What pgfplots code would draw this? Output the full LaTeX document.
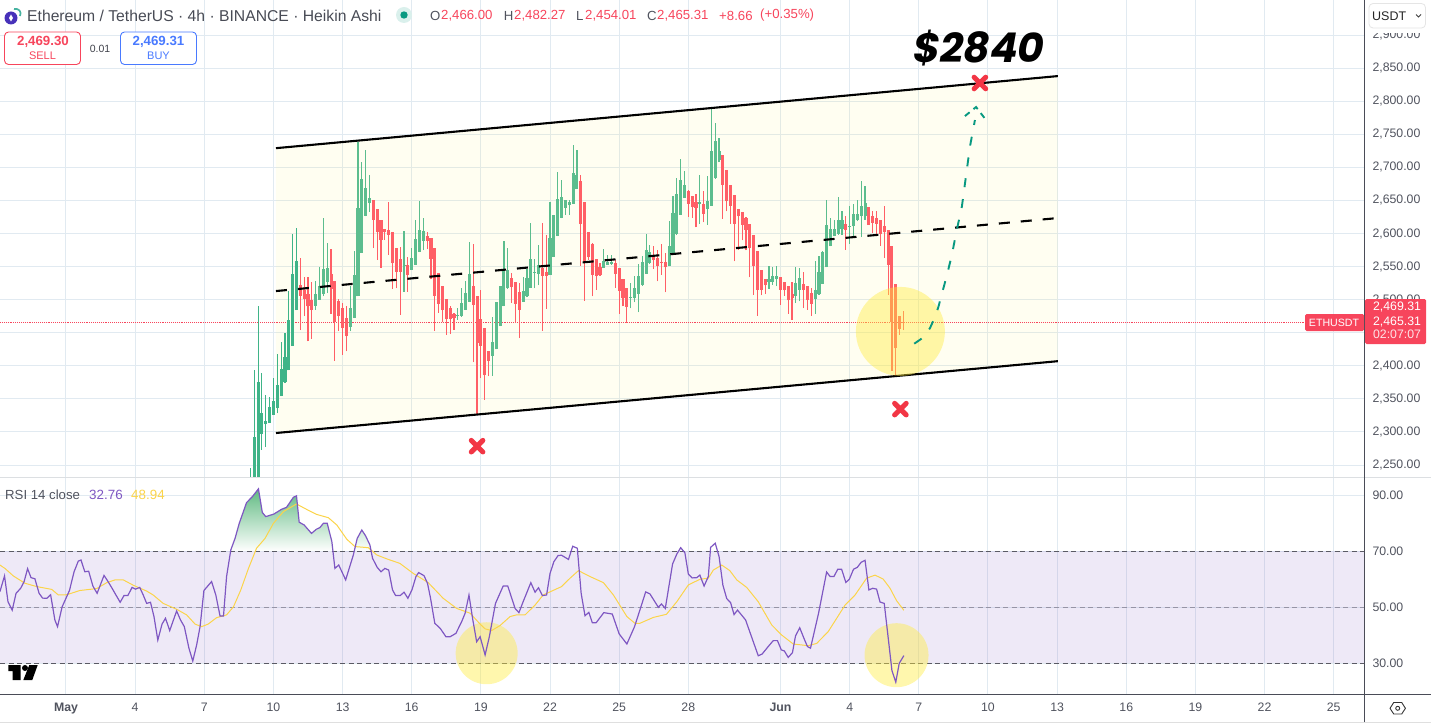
\documentclass[border=0pt]{standalone}
\usepackage{fontspec}
\setmainfont{Liberation Sans}
\newfontfamily\pop{Poppins}
\usepackage{pgfplots}
\usepackage{pgfplotstable}
\pgfplotsset{compat=1.18}
\definecolor{cgreenA}{HTML}{3FB488}
\definecolor{cgreen}{HTML}{5CBD8E}
\definecolor{cred}{HTML}{FF5F66}
\definecolor{gridc}{HTML}{E1EAF1}
\definecolor{axc}{HTML}{4A4C57}
\definecolor{txt}{HTML}{50535E}
\definecolor{rsi}{HTML}{7E57C2}
\definecolor{ma}{HTML}{FBD44A}
\definecolor{tag}{HTML}{F7455C}
\definecolor{xred}{HTML}{F23645}
\definecolor{teal}{HTML}{089981}
\definecolor{hl}{HTML}{FFEB3B}
\definecolor{blueb}{HTML}{2962FF}

\pgfplotstableread{
n o h l c
48 2200 2245 2190 2222
49 2200 2394 2190 2292
50 2215 2491 2205 2376
51 2297 2389 2273 2328.5
52 2312 2356 2277 2317
53 2314 2353 2314 2337.5
54 2326 2381 2326 2347
55 2336 2418 2328 2371
56 2354 2436 2354 2395
57 2375 2449 2374 2413
58 2393 2513 2393 2469.5
59 2430 2600 2430 2539
60 2484 2608 2484 2558
}\greenA
\pgfplotstableread{
n o h l c
65 2491 2528 2485 2508
66 2500 2550 2500 2520
67 2509 2623 2505 2546
68 2527 2585 2510 2548
74 2458 2520 2452 2487
75 2472.5 2574 2472 2537
76 2505 2738 2505 2639
77 2571 2708 2571 2682
78 2627 2726 2626 2669
79 2646 2688.5 2633 2653
88 2551 2604 2512 2552.5
90 2545 2578 2545 2563
91 2552.5 2620.5 2552.5 2592
92 2572 2649 2572 2606
93 2589 2623 2575 2604
102 2475 2487 2469.5 2477
103 2475 2517 2474.5 2495
104 2484.5 2528 2484.5 2510
105 2497 2587 2497 2539
111 2415 2474.5 2385 2436
112 2425 2497 2425 2496.7
113 2460 2520 2460 2520
114 2490 2589 2490 2546
115 2517 2578 2516 2545
119 2497 2535 2497 2513
120 2505 2547 2504 2533
121 2518 2615.5 2518 2562
122 2540.5 2562 2517 2541.5
123 2538.5 2583 2522 2552.5
126 2537 2648 2537 2593
127 2565 2628 2565 2628
128 2596 2692.5 2596 2652
129 2624 2681 2623 2655
130 2639 2651 2628 2651
131 2643 2651 2628 2648
132 2645 2734 2645 2691
133 2667 2726 2667 2688.5
140 2548 2576.5 2548 2559
141 2553 2567 2553 2557.4
142 2554.4 2568 2553 2556.4
147 2503 2525 2487 2504.4
148 2502.4 2536 2496 2518
149 2509 2554.4 2480.7 2536
150 2522.6 2566.5 2521 2557.4
151 2539 2599.7 2539 2575.5
152 2555.4 2583 2554.4 2571.5
157 2550.3 2619.4 2550.3 2581.6
158 2570.5 2656 2568 2631
159 2598.7 2684 2598 2660
160 2628.5 2712.7 2628.5 2681.5
161 2653.7 2695 2653.7 2674
165 2644 2689 2615 2647
167 2637 2687.5 2613.4 2649.7
168 2642 2788.9 2642 2725
169 2683.5 2767 2682.5 2740.5
170 2711.7 2744.5 2707.7 2725
183 2526 2550.3 2516.5 2531.6
184 2527 2549.3 2522.6 2536
185 2531 2551.3 2520 2536
190 2506 2548.8 2494.8 2525
191 2515 2547.8 2497.4 2532.6
195 2500.9 2557.9 2478.7 2515
196 2508.5 2565.4 2507.4 2542
197 2524 2573 2524 2572
198 2548.8 2651.2 2548.8 2613.4
199 2580.6 2623.5 2580.6 2606.8
200 2595.7 2620.9 2595.7 2606.8
201 2599.7 2655.2 2598 2620.9
202 2606.8 2633.5 2598 2620.9
204 2609.3 2642 2584.6 2611.9
205 2610.8 2645 2595.7 2629.5
206 2620 2650 2618.4 2630
207 2626 2680 2594.7 2641
208 2626 2671.4 2621 2646
}\greenB
\pgfplotstableread{
n o h l c
61 2522 2563 2454 2506
62 2515 2535 2475 2501
63 2508 2534 2437 2490
64 2500 2527 2441 2484
69 2539 2577 2479 2516
70 2528 2528 2408 2465.5
71 2498 2501 2453 2476
72 2487 2495 2417 2457
73 2472 2490 2422 2445
80 2651 2651 2578 2620.5
81 2637 2637 2560 2603
82 2620.5 2620.5 2548.5 2590
83 2607 2607 2590 2602
84 2605 2647 2568 2598
85 2602 2602 2516 2555
86 2578 2578 2517 2542
87 2561 2580 2477.5 2542
89 2552 2564 2512 2537
94 2596 2603 2576 2589
95 2593 2593 2531 2562
96 2578 2578 2453 2506
97 2541 2541 2480 2494
98 2520 2520 2465.5 2484
99 2501 2501 2447 2470.5
100 2488 2490 2448 2470.5
101 2478 2479.5 2454 2472
106 2520 2584 2405 2492
107 2506 2506 2327.5 2435
108 2470.5 2515 2381 2430
109 2457 2457 2349 2386
110 2422.6 2422.6 2384 2407.5
116 2533 2541 2495 2519
117 2527 2527 2464.5 2494
118 2511 2525 2442 2484
124 2547.5 2615.5 2453 2536
125 2542 2598 2486 2536
134 2679 2688.5 2551.5 2614
135 2648 2648 2498.7 2555
136 2602 2602 2560 2564
137 2584 2585 2505 2537
138 2562 2562 2515 2536
139 2550 2555.4 2536 2537
143 2555.4 2560.4 2518 2539
144 2548 2548 2478.7 2513.5
145 2531.6 2531.6 2489.8 2502.4
146 2518 2518 2464.6 2489.3
153 2566.5 2580.6 2546 2560.4
154 2563 2575.5 2527.6 2551.3
155 2557.4 2584.6 2537.7 2555.4
156 2557.4 2570.5 2511 2548.8
162 2664.8 2666.3 2625 2645
163 2656 2656 2623.5 2639.6
164 2648 2660 2609.3 2639
166 2645 2664.3 2617 2630
171 2719 2719 2622.5 2674
172 2696.6 2696.6 2633.5 2648.7
173 2673.9 2673.9 2614.4 2642
174 2658.8 2658.8 2557.9 2614.9
175 2637.6 2637.6 2575.5 2626
176 2632 2632 2589.7 2613.4
177 2623.5 2624.5 2574.5 2605.8
178 2614.9 2614.9 2533.7 2577.5
179 2597.7 2597.7 2507.4 2550.3
180 2573.5 2573.5 2475.7 2515
181 2545.3 2545.3 2506.4 2515
182 2531 2531 2508.5 2521.6
186 2534 2535 2492.3 2515
187 2527 2527 2506 2514
188 2520 2520 2478.7 2498.9
189 2509 2526 2469.6 2502.9
192 2524 2541.7 2487.3 2515
193 2521 2521 2484.8 2499.9
194 2510 2517.5 2475.7 2493.8
203 2614.9 2626 2575.5 2604.8
209 2640 2640 2613 2613.4
210 2627 2633.5 2600.8 2616
211 2623.5 2633.5 2599.7 2614.9
212 2619.9 2619.9 2581.6 2599.7
213 2610.8 2642 2562.9 2601.8
214 2605.8 2605.8 2507.4 2552.8
215 2580.6 2580.6 2392.4 2466
216 2524 2524 2383.9 2426.2
217 2475.7 2475.7 2446.9 2456
218 2466 2482.27 2454.01 2465.31
}\redC

\pgfplotstableread{
n r
-17.2 55.6
-16 61.2
-15.1 52
-14 49
-13 55
-11.8 56.8
-10.9 59.2
-10 63.8
-9.1 60.6
-8.1 60.2
-7 55
-6.1 53.3
-5 53.2
-4 54.5
-2.9 45.5
-2.2 43.1
-1 50.2
.9 56
2.1 62.7
3.2 66.5
3.9 66.9
4.9 62.7
5.9 62.9
7 57.6
8.1 55
9.9 61.4
10.9 59.3
12 56.8
13 54.4
14.1 51.8
15.1 54.2
16.1 54.2
17.2 57.1
18.1 56.5
19.2 57.1
20.1 54.4
21 51.4
22 51.8
22.9 46.7
23.9 38.3
25 44
25.9 46.1
27 41.7
28.8 48.7
29.8 45.5
30.8 43.1
32 35.4
33 30.8
34 36.5
34.9 43.1
35.9 56
37.9 59.2
39 54.4
40.1 46.9
41 46.9
41.8 61
42.9 70.5
44 74.6
45.1 80
47 87.4
48.5 89.5
50.1 92.3
51.1 83.9
52 82.4
54.1 83.3
56.1 85
57.4 85.7
59.2 89.3
60 89.8
60.7 80.4
62 79.4
63.9 76.4
65.2 77.9
66.1 78.5
67 80
68 80
69.2 73.5
70 63.9
71 65.1
72.8 59.8
74.8 68.7
75.8 74.6
77 77.6
78 75.5
79.1 72.3
79.8 67.5
81 64.3
82 62.7
83 63.9
84 63.3
85 56.2
85.8 54.2
87 54.2
88 55.4
89 53.2
90.1 56.4
91.1 61
91.8 62.4
93.2 61.3
94.1 58.6
94.9 53.2
96 44.3
97.4 42.5
98.9 39.5
100 39.5
101.5 40.7
103 44.9
103.9 47.9
104.9 54.4
105.9 45.5
106.9 37.7
107.8 39.5
109.1 33
110.2 39.5
111.8 51.4
113.8 57.6
115 57.6
116.9 49.6
117.9 48.1
119 52
121 58.8
122.1 55.4
123 57
124 54.2
125.1 54.4
126 62.1
127 66.3
128.1 68.5
129 68.6
130.8 67.1
131.9 71.8
133.1 71.1
134.1 55
135.1 47
136.1 48.2
137 44.5
138 44.5
140 48.1
142.2 47.6
144 40.5
146 36.9
148 43.1
150.9 55.5
152 54.8
154.2 50
155 51.2
156 49.6
157.9 65.5
159 69
160 71.3
161.1 69.5
162 61.9
163 60.5
164.2 60.6
165 61.5
166.1 57.6
167.2 61
167.8 71.4
169 72.9
170 68.1
171 57.9
172 53.1
173 51.7
173.9 47.4
174.8 49
176.9 45.5
180.2 32.7
181.2 33.3
182.8 36
184.1 38.1
185.2 38.1
186.2 34.8
187 34.4
188 32.1
189.1 33.8
189.9 39.8
191 42.7
192.1 38.9
193 36
193.8 35.4
195.9 47.9
198 62.6
198.9 61
199.9 61
200.9 63.6
201.9 63.6
203 58.9
203.9 60
205 63.6
206 64.3
207 66.1
208 66.8
209 56.2
210 56.8
211 56.5
211.9 51.9
213 51.4
215 27.4
216 23.3
216.9 30
218.1 32.76
}\rsiT

\pgfplotstableread{
n r
-17.2 65.1
-15.9 63.9
-13.7 61.2
-10.7 58.6
-7.6 57.4
-3.7 56.4
-2 54.4
.2 54.5
3.6 56
8 56.7
10.6 58.8
12.8 59.8
14.9 59.8
17.5 57.9
21 55.8
22.7 54.4
25.3 51.4
28.8 49.3
31.4 47.3
33.6 44
35.3 43.1
37 44
39.2 46.3
41.8 47.3
43.6 50.2
45.5 56.2
47.5 63.9
49.6 71.1
51.8 74.6
54 80
56.6 84.2
60 86.9
62.6 85
65.2 83.2
68.3 82
70.5 79.4
73.1 74.3
75.2 71.7
78.7 71.3
80.9 68.7
83.5 67.3
86.9 65.7
90.4 62.1
94.3 58.8
98.2 53.2
101.7 49.6
105.2 47.9
107.8 44
109.1 42.3
110.8 41.7
113 43.5
115.6 46.7
117.3 47.3
119.5 47.3
122.1 50.8
124.2 54.4
129 57.4
131.2 60.4
133.4 63.1
136.4 61
139.9 58.8
142.5 54.4
146 46.7
148.1 44.3
149.4 44.3
152.9 46.4
156.3 47.5
159 52
162 58
165 60
167.2 60.4
168.5 63.3
170.7 65.1
172.8 63.1
174.6 59.8
177.2 57.1
180.2 52
183.7 43.7
186.3 40.1
189.3 36.9
193.2 36.3
195.4 37.1
198.4 41.3
202.8 50.8
205.4 54.4
208.4 60.4
210.6 61.5
212.7 60.1
214.5 56.8
216.2 52.4
218.1 48.94
}\maT

\pgfplotsset{
  candle wick/.style={forget plot, draw=none, no marks,
    error bars/.cd, y dir=plus, y explicit, error mark=none,
    error bar style={line width=1.15pt, draw=#1, solid}},
  candle body/.style={forget plot, draw=none, no marks,
    error bars/.cd, y dir=plus, y explicit, error mark=none,
    error bar style={line width=3.1pt, draw=#1, solid}},
  chart/.style={
    anchor=south west, scale only axis, width=1364pt,
    xmin=-17.18, xmax=337.88,
    axis line style={draw=none}, major tick style={draw=none},
    grid=both, major grid style={gridc, line width=1pt},
    xtick={0,18,36,54,72,90,108,126,144,162,186,204,222,240,258,276,294,312,330},
    clip=true, axis on top=false,
    tick label style={font=\fontsize{12.3}{14}\selectfont, text=txt},
    yticklabel pos=right,
    scaled y ticks=false,
    yticklabel style={anchor=west, xshift=5pt,
      /pgf/number format/.cd, fixed, fixed zerofill, precision=2, 1000 sep={,}, assume math mode=true},
  },
  pricepane/.style={anchor=south west, scale only axis, width=1364pt, at={(0pt,247pt)}, height=477pt,
    xmin=-17.18, xmax=337.88, ymin=2231.9, ymax=2953},
  rsipane/.style={anchor=south west, scale only axis, width=1364pt, at={(0pt,30pt)}, height=217pt,
    xmin=-17.18, xmax=337.88, ymin=19.04, ymax=96.54},
}

\begin{document}
\begin{tikzpicture}[x=1pt,y=1pt]
\useasboundingbox (0,0) rectangle (1431,724);

% ---------- price pane
\begin{axis}[chart, pricepane,
  ytick={2250,2300,2350,2400,2450,2500,2550,2600,2650,2700,2750,2800,2850,2900},
  xticklabels={}]
\addplot[draw=none, fill=hl, fill opacity=.07, forget plot] coordinates
  {(54.66,2729) (258.2,2838) (258.2,2407) (54.66,2298.4)} -- cycle;
\addplot[tag, densely dotted, line width=.9pt, forget plot] coordinates {(-17.18,2465.31) (323.5,2465.31)};
% wicks
\addplot[candle wick=cgreenA] table[x=n,y=l,y error expr=\thisrow{h}-\thisrow{l}] {\greenA};
\addplot[candle wick=cgreen]  table[x=n,y=l,y error expr=\thisrow{h}-\thisrow{l}] {\greenB};
\addplot[candle wick=cred]    table[x=n,y=l,y error expr=\thisrow{h}-\thisrow{l}] {\redC};
% bodies
\addplot[candle body=cgreenA] table[x=n,y=o,y error expr=\thisrow{c}-\thisrow{o}] {\greenA};
\addplot[candle body=cgreen]  table[x=n,y=o,y error expr=\thisrow{c}-\thisrow{o}] {\greenB};
\addplot[candle body=cred]    table[x=n,y=c,y error expr=\thisrow{o}-\thisrow{c}] {\redC};
% channel lines
\addplot[black, line width=2.1pt, forget plot] coordinates {(54.66,2729) (258.2,2838)};
\addplot[black, line width=2.1pt, forget plot] coordinates {(54.66,2298.4) (258.2,2407)};
\addplot[black, line width=2.1pt, dash pattern=on 11pt off 11pt, forget plot] coordinates {(54.66,2513) (258.2,2623.4)};
% highlight
\addplot[only marks, mark=*, mark size=44.5pt, mark options={draw opacity=0, fill=hl, fill opacity=.42}, forget plot]
  coordinates {(217.2,2452)};
\end{axis}

% price pane, upper overlay
\begin{axis}[pricepane, hide axis]
\addplot[teal, line width=1.9pt, dash pattern=on 9pt off 12pt, forget plot] coordinates {
 (220.8,2433.4) (223.2,2443) (224.9,2457) (226.2,2473.7) (227.1,2489.3) (229.2,2534.6)
 (230.6,2567.5) (231.7,2600.7) (233.2,2640.5) (235.3,2731.2) (236.6,2771.5)};
\addplot[teal, line width=1.9pt, dash pattern=on 6pt off 5pt, forget plot] coordinates {
 (234,2777.5) (236.9,2791.2) (239.3,2773)};
\addplot[only marks, mark=x, mark size=8.2pt, mark options={xred, line width=5pt, line cap=round}, forget plot]
  coordinates {(237.9,2827.5) (217.2,2334.5) (107,2278.5)};
\end{axis}

% ---------- RSI pane
\begin{axis}[chart, rsipane,
  ytick={30,50,70,90},
  xticklabels={\textbf{May},4,7,10,13,16,19,22,25,28,\textbf{Jun},4,7,10,13,16,19,22,25},
  xticklabel style={yshift=-5.5pt}]
\addplot[draw=none, fill=rsi, fill opacity=.13, forget plot] coordinates
  {(-17.18,30) (337.88,30) (337.88,70) (-17.18,70)} -- cycle;
\addplot[draw=none, shade, top color={rgb,255:red,96;green,186;blue,130}, bottom color=white, forget plot] coordinates {
 (42.8,70) (42.9,70.5) (44,74.6) (45.1,80) (47,87.4) (48.5,89.5) (50.1,92.3) (51.1,83.9) (52,82.4) (54.1,83.3)
 (56.1,85) (57.4,85.7) (59.2,89.3) (60,89.8) (60.7,80.4) (62,79.4) (63.9,76.4) (65.2,77.9) (66.1,78.5) (67,80)
 (68,80) (69.2,73.5) (69.6,70)} -- cycle;
\addplot[draw=none, shade, top color={rgb,255:red,205;green,234;blue,216}, bottom color=white, forget plot] coordinates {
 (75.1,70) (75.8,74.6) (77,77.6) (78,75.5) (79.1,72.3) (79.5,70)} -- cycle;
\addplot[color={rgb,255:red,90;green,90;blue,100}, dash pattern=on 5pt off 3.5pt, line width=1pt, forget plot] coordinates {(-17.18,70) (337.88,70)};
\addplot[color={rgb,255:red,150;green,148;blue,165}, dash pattern=on 5pt off 3.5pt, line width=1pt, forget plot] coordinates {(-17.18,50) (337.88,50)};
\addplot[color={rgb,255:red,90;green,90;blue,100}, dash pattern=on 5pt off 3.5pt, line width=1pt, forget plot] coordinates {(-17.18,30) (337.88,30)};
\addplot[only marks, mark=*, mark size=31pt, mark options={draw opacity=0, fill=hl, fill opacity=.42}, forget plot]
  coordinates {(109.5,33.6)};
\addplot[only marks, mark=*, mark size=32pt, mark options={draw opacity=0, fill=hl, fill opacity=.42}, forget plot]
  coordinates {(216.2,32.9)};
\end{axis}

% RSI pane, upper overlay
\begin{axis}[rsipane, hide axis]
\addplot[ma, line width=1pt, forget plot] table[x=n,y=r] {\maT};
\addplot[rsi, line width=1.2pt, forget plot] table[x=n,y=r] {\rsiT};
\end{axis}

% ---------- chrome, in picture pixels with y downward
\begin{scope}[shift={(0,724)}, y=-1pt, x=1pt]
\draw[gridc!70!gray!60, line width=1pt] (0,477) -- (1431,477);
\draw[axc, line width=1pt] (0,694.3) -- (1431,694.3);
\draw[axc, line width=1pt] (1364.3,0) -- (1364.3,722);
\draw[gray!25, line width=1pt] (0,722.5) -- (1431,722.5);

% TradingView mark
\fill[black] (8.3,665) -- (20.7,665) -- (20.7,680) -- (12.7,680) -- (12.7,671) -- (8.3,671) -- cycle;
\fill[black] (25,668) circle (3);
\fill[black] (29.3,665) -- (37.7,665) -- (32.3,680) -- (23.3,680) -- cycle;

% header
\fill[rsi!80!black!70!blue] (11,18) circle (6.5);
\draw[teal!75, line width=1.7pt] (14,9) .. controls (19,8) and (22,12) .. (20,16);
\fill[white] (11,14.5) -- (13,18) -- (11,21.5) -- (9,18) -- cycle;
\node[anchor=west, inner sep=0, text=txt!90!black, font=\fontsize{15.7}{18}\selectfont] at (27,15.5)
  {Ethereum / TetherUS · 4h · BINANCE · Heikin Ashi};
\fill[teal!15] (404,15) circle (8);
\fill[teal] (404,15) circle (3.7);
\foreach \x/\t in {430/O,503.6/H,576/L,647/C}
  \node[anchor=west, inner sep=0, text=txt, font=\fontsize{13.2}{15}\selectfont] at (\x,15.5) {\t};
\foreach \x/\t in {441/{2,466.00},514/{2,482.27},585/{2,454.01},657/{2,465.31},719/{+8.66},760/{(+0.35\%)}}
  \node[anchor=west, inner sep=0, text=tag, font=\fontsize{13.2}{15}\selectfont] at (\x,15.5) {\t};

\draw[tag, line width=.9pt, rounded corners=4pt, fill=white] (4.5,32) rectangle (80.5,64.5);
\node[text=tag, font=\fontsize{13.3}{14}\selectfont\bfseries, inner sep=0] at (43,42) {2,469.30};
\node[text=tag, font=\fontsize{11}{13}\selectfont, inner sep=0] at (42.5,56) {SELL};
\node[text=txt!80!black, font=\fontsize{10.5}{12}\selectfont, inner sep=0] at (100,48.5) {0.01};
\draw[blueb!85, line width=.9pt, rounded corners=4pt, fill=white] (120.5,32) rectangle (196.5,64.5);
\node[text=blueb!85, font=\fontsize{13.3}{14}\selectfont\bfseries, inner sep=0] at (158.5,42) {2,469.31};
\node[text=blueb!85, font=\fontsize{11}{13}\selectfont, inner sep=0] at (158.5,56) {BUY};

\node[anchor=west, inner sep=0, font=\pop\bfseries\itshape\fontsize{41}{44}\selectfont, text=black] at (913,48) {\$2840};

% RSI legend
\node[anchor=west, inner sep=0, text=txt, font=\fontsize{13.2}{15}\selectfont] at (5,495) {RSI 14 close};
\node[anchor=west, inner sep=0, text=rsi, font=\fontsize{13.4}{15}\selectfont] at (89,495) {32.76};
\node[anchor=west, inner sep=0, text=ma, font=\fontsize{13.4}{15}\selectfont] at (131,495) {48.94};

% USDT button
\fill[white] (1365,0) rectangle (1431,33);
\draw[gray!20, line width=.8pt, rounded corners=4pt] (1369,3.5) rectangle (1425.5,28);
\node[anchor=west, inner sep=0, text=black!85, font=\fontsize{12.5}{15}\selectfont] at (1372,16) {USDT};
\draw[black!75, line width=.9pt] (1416,14.5) -- (1418.5,17) -- (1421,14.5);

% price tags
\fill[tag, rounded corners=1.5pt] (1305,314) rectangle (1364,331);
\node[text=white, font=\fontsize{10.6}{14}\selectfont, inner sep=0] at (1334,322.5) {ETHUSDT};
\fill[tag, rounded corners=1.5pt] (1365,299) rectangle (1426,344);
\node[text=white, font=\fontsize{12.3}{14}\selectfont, inner sep=0] at (1397,306.5) {2,469.31};
\node[text=white, font=\fontsize{12.3}{14}\selectfont, inner sep=0] at (1397,321.5) {2,465.31};
\node[text=white!85!tag, font=\fontsize{12.3}{14}\selectfont, inner sep=0] at (1397,334) {02:07:07};

% settings
\draw[black!80, line width=.9pt] (1390,708.3) -- (1393.7,702.5) -- (1401.7,702.5) -- (1405.4,708.3) -- (1401.7,714) -- (1393.7,714) -- cycle;
\draw[black!80, line width=.9pt] (1397.7,708.3) circle (2);
\end{scope}
\end{tikzpicture}
\end{document}
